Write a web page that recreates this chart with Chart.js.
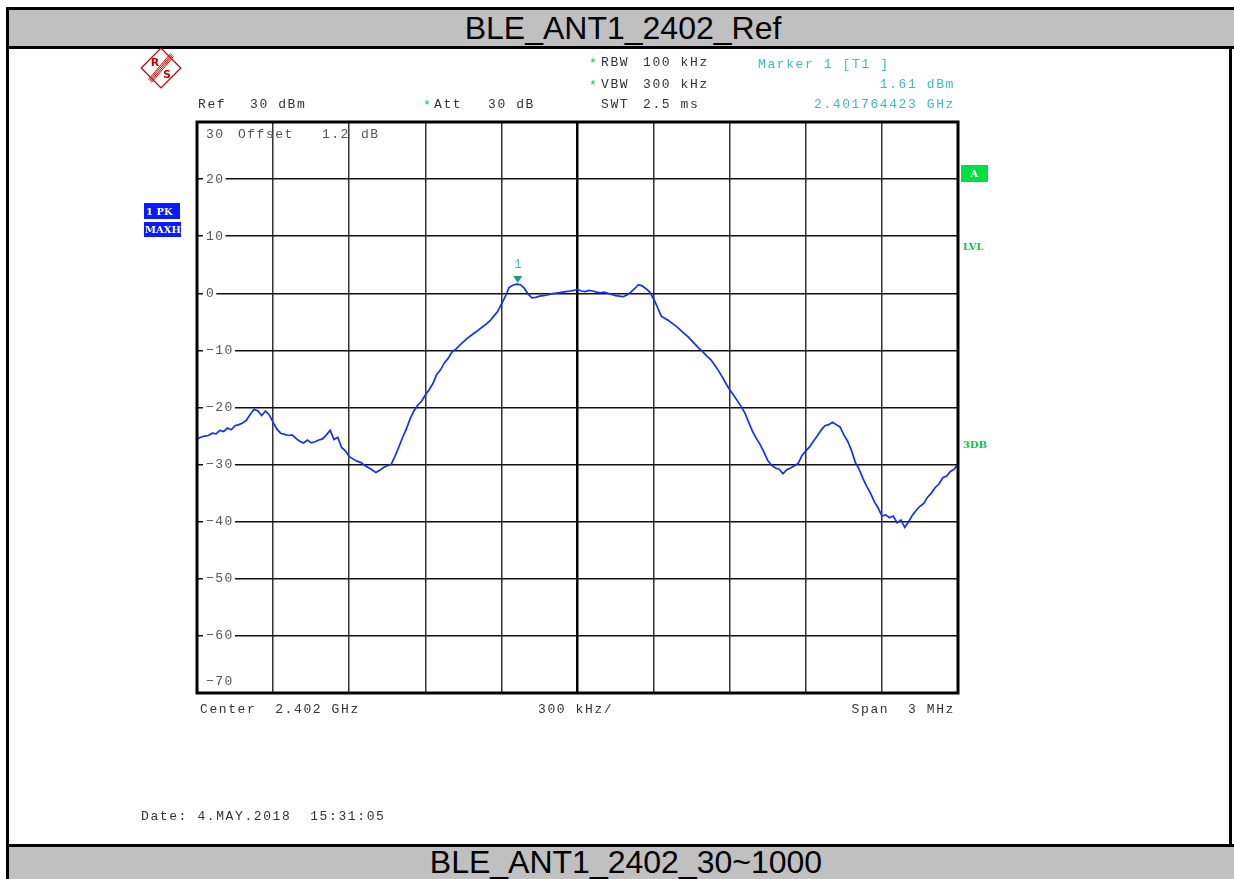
<!DOCTYPE html>
<html>
<head>
<meta charset="utf-8">
<script src="https://cdn.jsdelivr.net/npm/chart.js@4.4.1/dist/chart.umd.min.js"></script>
<style>
html,body{margin:0;padding:0;background:#fff;width:1234px;height:879px;overflow:hidden;}
.bar{position:absolute;left:6px;right:0;background:#c0c0c0;font-family:"Liberation Sans",Arial,sans-serif;font-size:32px;color:#000;text-align:center;}
#top{top:7px;height:36px;border-top:3px solid #000;border-bottom:3px solid #000;line-height:37px;}
#bottom{top:844px;height:40px;border-top:3px solid #000;line-height:36px;}
#lb{position:absolute;left:6px;top:7px;width:3px;height:872px;background:#000;}
#rb{position:absolute;left:1229px;top:46px;width:3px;height:800px;background:#000;}
canvas{position:absolute;left:0;top:0;}
</style>
</head>
<body>
<div id="top" class="bar"><span style="position:relative;left:3px">BLE_ANT1_2402_Ref</span></div>
<div id="bottom" class="bar"><span style="position:relative;left:6px;top:-3px">BLE_ANT1_2402_30~1000</span></div>
<div id="lb"></div>
<div id="rb"></div>
<canvas id="c" width="1234" height="879"></canvas>
<script>
// ---- data ----
const centerGHz = 2.402;
const spanKHz = 3000;
const freqStartKHz = -1500;   // offset from center
const freqStepKHz = 15;       // sweep point spacing
const yTickLabels = ["30","20","10","0","\u221210","\u221220","\u221230","\u221240","\u221250","\u221260","\u221270"];
const yTickValues = [30,20,10,0,-10,-20,-30,-40,-50,-60,-70];
const traceDbm = [
 -25.5,-25.2,-25.0,-24.9,-24.5,-24.6,-24.0,-24.2,-23.6,-23.9,
 -23.2,-23.0,-22.7,-22.2,-21.2,-20.3,-20.6,-21.4,-20.6,-21.3,
 -22.6,-23.8,-24.5,-24.7,-24.9,-24.8,-25.4,-25.9,-26.2,-25.7,
 -26.2,-26.0,-25.7,-25.5,-24.8,-24.0,-25.6,-25.2,-27.0,-27.6,
 -28.6,-29.0,-29.4,-29.6,-30.1,-30.5,-30.9,-31.4,-31.0,-30.5,
 -30.2,-30.0,-28.6,-27.0,-25.3,-23.8,-22.0,-20.6,-19.6,-18.9,
 -17.8,-16.9,-15.8,-14.2,-13.4,-12.2,-11.4,-10.3,-9.8,-9.1,
 -8.5,-7.9,-7.4,-6.9,-6.4,-5.9,-5.4,-4.8,-4.0,-3.2,
 -1.9,-0.6,1.0,1.4,1.6,1.5,0.9,-0.1,-0.8,-0.7,
 -0.5,-0.4,-0.3,-0.1,0.0,0.1,0.2,0.3,0.4,0.5,
 0.7,0.4,0.3,0.5,0.4,0.2,0.1,0.2,0.0,-0.2,
 -0.4,-0.5,-0.6,-0.3,0.2,0.8,1.5,1.3,0.8,0.2,
 -1.0,-2.4,-4.0,-4.4,-4.8,-5.3,-5.8,-6.4,-7.0,-7.6,
 -8.3,-9.0,-9.7,-10.3,-11.0,-11.6,-12.5,-13.5,-14.6,-15.8,
 -16.9,-17.8,-18.8,-19.8,-21.0,-22.6,-24.2,-25.4,-26.5,-27.8,
 -29.3,-30.1,-30.6,-30.8,-31.6,-30.9,-30.6,-30.2,-29.8,-28.4,
 -27.6,-26.9,-25.9,-25.0,-24.0,-23.2,-23.0,-22.6,-23.0,-23.4,
 -24.8,-25.9,-27.5,-29.6,-30.8,-32.4,-33.8,-35.0,-36.5,-37.6,
 -39.0,-38.8,-39.3,-39.0,-40.2,-39.7,-41.0,-40.0,-38.9,-38.0,
 -37.3,-36.8,-35.7,-35.0,-34.0,-33.4,-32.3,-32.0,-31.2,-30.8,
 -29.8
];
const markerFreqGHz = 2.401764423;
const markerLevelDbm = 1.61;

const points = traceDbm.map((v,i)=>({x: freqStartKHz + i*freqStepKHz, y: v}));
const markerX = (markerFreqGHz - centerGHz)*1e6;

const MONO = '"Liberation Mono","DejaVu Sans Mono",monospace';

function txt(ctx, s, x, y, color, align){
  ctx.fillStyle = color;
  ctx.textAlign = align || 'left';
  ctx.fillText(s, x, y);
}

const deco = {
  id: 'deco',
  beforeDatasetsDraw(chart){
    const ctx = chart.ctx, ys = chart.scales.y, a = chart.chartArea;
    ctx.save();
    ctx.font = '13px ' + MONO;
    ctx.letterSpacing = '1.5px';
    ctx.textBaseline = 'middle';
    yTickValues.forEach((v,i)=>{
      let y = ys.getPixelForValue(v);
      if (i === 0) y = a.top + 13;
      if (i === yTickValues.length-1) y = a.bottom - 11;
      const s = yTickLabels[i];
      const w = ctx.measureText(s).width;
      ctx.fillStyle = '#fff';
      ctx.fillRect(a.left + 6, y - 6, w + 4, 12);
      txt(ctx, s, a.left + 9, y, '#555');
    });
    txt(ctx, 'Offset', 238, 135, '#555');
    txt(ctx, '1.2', 322, 135, '#555');
    txt(ctx, 'dB', 361, 135, '#555');
    ctx.restore();
  },
  afterDraw(chart){
    const ctx = chart.ctx, a = chart.chartArea, xs = chart.scales.x, ys = chart.scales.y;
    ctx.save();
    // plot border
    ctx.strokeStyle = '#000';
    ctx.lineWidth = 3;
    ctx.strokeRect(a.left, a.top, a.right - a.left, a.bottom - a.top);
    // marker
    const mx = xs.getPixelForValue(markerX), my = ys.getPixelForValue(markerLevelDbm);
    ctx.fillStyle = '#1a9a8c';
    ctx.beginPath();
    ctx.moveTo(mx - 4.5, my - 8);
    ctx.lineTo(mx + 4.5, my - 8);
    ctx.lineTo(mx, my - 1);
    ctx.closePath();
    ctx.fill();
    ctx.font = '12px ' + MONO;
    ctx.textBaseline = 'middle';
    txt(ctx, '1', mx, my - 19, '#3cbcbc', 'center');

    // header / footer texts
    ctx.font = '13px ' + MONO;
    ctx.letterSpacing = '1.6px';
    const g = '#333', teal = '#3cbcbc', star = '#00cc33';
    txt(ctx, '*', 589, 64, star); txt(ctx, 'RBW', 601, 63, g); txt(ctx, '100 kHz', 643, 63, g);
    txt(ctx, '*', 589, 86, star); txt(ctx, 'VBW', 601, 85, g); txt(ctx, '300 kHz', 643, 85, g);
    txt(ctx, 'SWT', 601, 105, g); txt(ctx, '2.5 ms', 643, 105, g);
    txt(ctx, 'Ref', 198, 105, g); txt(ctx, '30 dBm', 250, 105, g);
    txt(ctx, '*', 423, 106, star); txt(ctx, 'Att', 434, 105, g); txt(ctx, '30 dB', 488, 105, g);
    txt(ctx, 'Marker 1 [T1 ]', 758, 65, teal);
    txt(ctx, '1.61 dBm', 955, 85, teal, 'right');
    txt(ctx, '2.401764423 GHz', 955, 105, teal, 'right');
    txt(ctx, 'Center  2.402 GHz', 200, 710, g);
    txt(ctx, '300 kHz/', 538, 710, g);
    txt(ctx, 'Span  3 MHz', 955, 710, g, 'right');
    txt(ctx, 'Date: 4.MAY.2018  15:31:05', 141, 817, g);

    // side boxes
    ctx.letterSpacing = '0px';
    ctx.font = 'bold 10px "DejaVu Serif", serif';
    ctx.fillStyle = '#0a1cff';
    ctx.fillRect(144, 203, 36, 16);
    ctx.fillRect(144, 222, 37, 15);
    txt(ctx, '1 PK', 146, 212, '#fff');
    txt(ctx, 'MAXH', 145, 230, '#fff');
    ctx.fillStyle = '#00e040';
    ctx.fillRect(961, 165, 27, 17);
    txt(ctx, 'A', 974.5, 174, '#fff', 'center');
    txt(ctx, 'LVL', 963, 247, '#00d040');
    txt(ctx, '3DB', 963, 445, '#00d040');

    // R&S logo
    ctx.save();
    ctx.translate(161, 68);
    ctx.rotate(Math.PI/4);
    ctx.strokeStyle = '#c80000';
    ctx.lineWidth = 1.3;
    ctx.strokeRect(-14, -14, 28, 28);
    ctx.restore();
    ctx.strokeStyle = '#c80000';
    ctx.lineWidth = 1;
    for (let k = -1.5; k <= 1.5; k += 1) {
      ctx.beginPath();
      ctx.moveTo(150 + k, 81 + k);
      ctx.lineTo(172 + k, 55 + k);
      ctx.stroke();
    }
    ctx.font = 'bold 11px "DejaVu Sans", sans-serif';
    txt(ctx, 'R', 155, 63, '#c80000', 'center');
    txt(ctx, 'S', 167, 75, '#c80000', 'center');
    ctx.restore();
  }
};

new Chart(document.getElementById('c'), {
  type: 'line',
  data: {
    datasets: [{
      data: points,
      borderColor: '#1030ff',
      borderWidth: 1.7,
      pointRadius: 0,
      tension: 0,
      fill: false
    }]
  },
  options: {
    responsive: false,
    animation: false,
    events: [],
    layout: { padding: { left: 197, top: 122, right: 276, bottom: 186 } },
    plugins: { legend: { display: false }, tooltip: { enabled: false } },
    scales: {
      x: {
        type: 'linear',
        min: -spanKHz/2, max: spanKHz/2,
        ticks: { display: false, stepSize: 300 },
        border: { display: false },
        grid: {
          drawTicks: false,
          color: (c) => c.tick && c.tick.value === 0 ? '#000' : '#333',
          lineWidth: (c) => c.tick && c.tick.value === 0 ? 2.5 : 1.5
        }
      },
      y: {
        type: 'linear',
        min: -70, max: 30,
        ticks: { display: false, stepSize: 10 },
        border: { display: false },
        grid: { drawTicks: false, color: '#111', lineWidth: 1.5 }
      }
    }
  },
  plugins: [deco]
});
</script>
</body>
</html>
